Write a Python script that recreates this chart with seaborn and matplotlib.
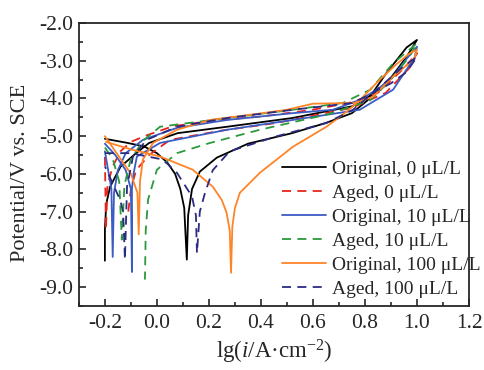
import numpy as np
import pandas as pd
import seaborn as sns
import matplotlib
matplotlib.use('Agg')
import matplotlib.pyplot as plt
from matplotlib.ticker import MultipleLocator, FormatStrFormatter

## DATA (forward scan, then reverse scan)
labels = ['Original, 0 μL/L', 'Aged, 0 μL/L', 'Original, 10 μL/L',
          'Aged, 10 μL/L', 'Original, 100 μL/L', 'Aged, 100 μL/L']

orig0_x = [-0.2, -0.12, -0.05, 0.0, 0.04, 0.07, 0.09, 0.105, 0.11, 0.115, 0.12, 0.135, 0.165, 0.23,
           0.35, 0.52, 0.65, 0.75, 0.81, 0.88, 0.96, 1.0, 0.96, 0.9, 0.86, 0.75, 0.52, 0.27, 0.08,
           -0.03, -0.08, -0.14, -0.18, -0.195, -0.2, -0.2]
orig0_y = [-5.07, -5.17, -5.27, -5.45, -5.7, -6.0, -6.4, -6.9, -7.6, -8.27, -7.1, -6.4, -5.94, -5.57,
           -5.2, -4.92, -4.65, -4.39, -4.05, -3.35, -2.65, -2.45, -2.9, -3.45, -3.77, -4.21, -4.52,
           -4.75, -4.92, -5.18, -5.45, -5.81, -6.34, -6.8, -7.48, -8.3]

aged0_x = [-0.2, -0.198, -0.196, -0.19, -0.17, -0.14, -0.1, -0.04, 0.06, 0.2, 0.4, 0.6, 0.75, 0.85,
           0.95, 1.0, 0.97, 0.88, 0.75, 0.46, 0.25, 0.05, -0.03, -0.08, -0.1, -0.11]
aged0_y = [-5.55, -6.5, -7.48, -6.3, -5.8, -5.4, -5.15, -4.98, -4.74, -4.6, -4.48, -4.3, -4.1, -3.85,
           -3.2, -2.8, -3.2, -3.85, -4.25, -4.65, -4.85, -5.1, -5.5, -5.9, -6.4, -7.0]

orig10_x = [-0.2, -0.19, -0.175, -0.17, -0.165, -0.15, -0.12, -0.054, 0.077, 0.27, 0.523, 0.677,
            0.78, 0.85, 0.908, 0.96, 1.0, 0.99, 0.973, 0.908, 0.78, 0.523, 0.27, 0.012, -0.077,
            -0.09, -0.096, -0.096, -0.1, -0.12, -0.16, -0.2]
orig10_y = [-5.4, -5.8, -6.4, -8.2, -6.5, -5.9, -5.45, -5.1, -4.78, -4.57, -4.39, -4.3,
            -4.04, -3.75, -3.42, -2.95, -2.63, -2.95, -3.1, -3.77, -4.3, -4.57, -4.83, -5.18, -5.54,
            -6.0, -6.4, -8.6, -6.4, -5.9, -5.5, -5.2]

aged10_x = [-0.2, -0.17, -0.145, -0.135, -0.125, -0.1, -0.05, 0.012, 0.27, 0.523, 0.715, 0.82, 0.91,
            1.0, 0.97, 0.9, 0.82, 0.652, 0.396, 0.204, 0.077, 0.0, -0.034, -0.043, -0.046]
aged10_y = [-5.3, -5.6, -6.2, -7.74, -6.3, -5.6, -5.1, -4.75, -4.52, -4.3, -4.12, -3.77, -3.06,
            -2.54, -2.9, -3.5, -4.05, -4.43, -4.83, -5.18, -5.45, -5.89, -6.68, -7.5, -8.8]

orig100_x = [-0.196, -0.1, 0.012, 0.138, 0.215, 0.25, 0.268, 0.28, 0.285, 0.29, 0.3, 0.319, 0.396,
             0.523, 0.652, 0.73, 0.781, 0.85, 0.92, 0.973, 1.0, 0.99, 0.908, 0.83, 0.76, 0.6, 0.5,
             0.396, 0.204, 0.077, -0.015, -0.054, -0.065, -0.07, -0.075, -0.1, -0.15, -0.2]
orig100_y = [-5.15, -5.35, -5.54, -5.89, -6.34, -6.7, -7.03, -7.5, -8.62, -7.4, -6.9, -6.5, -5.97,
             -5.28, -4.75, -4.35, -4.04, -3.55, -3.1, -2.8, -2.71, -2.95, -3.42, -3.96, -4.12, -4.14,
             -4.3, -4.4, -4.57, -4.83, -5.18, -5.62, -6.2, -7.6, -6.5, -6.0, -5.5, -5.0]

aged100_x = [-0.2, -0.1, 0.023, 0.077, 0.135, 0.15, 0.154, 0.165, 0.185, 0.215, 0.28, 0.462, 0.652,
             0.754, 0.846, 0.946, 1.0, 0.96, 0.9, 0.754, 0.523, 0.27, 0.077, -0.04, -0.092, -0.115,
             -0.123, -0.13, -0.142, -0.2]
aged100_y = [-5.45, -5.45, -5.62, -5.97, -6.6, -7.1, -8.1, -7.0, -6.5, -5.9, -5.4, -5.0, -4.65,
             -4.3, -3.77, -3.16, -2.9, -3.3, -3.6, -4.12, -4.3, -4.52, -4.75, -5.1, -5.54, -6.34,
             -8.27, -7.0, -6.68, -5.8]

curves_x = [orig0_x, aged0_x, orig10_x, aged10_x, orig100_x, aged100_x]
curves_y = [orig0_y, aged0_y, orig10_y, aged10_y, orig100_y, aged100_y]

colors = ['#000000', '#e8231d', '#3b5cc4', '#2b9a3b', '#ff8428', '#2b2b82']
styles = ['-', (0, (5, 3.5)), '-', (0, (5, 3.5)), '-', (0, (5, 3.5))]

## STYLE
sns.set_style('ticks')
plt.rcParams['font.family'] = ['Liberation Serif', 'DejaVu Serif']
plt.rcParams['mathtext.fontset'] = 'custom'
plt.rcParams['mathtext.rm'] = 'Liberation Serif'
plt.rcParams['mathtext.it'] = 'Liberation Serif:italic'
plt.rcParams['axes.unicode_minus'] = False

fig = plt.figure(figsize=(4.84, 3.70), dpi=100)
ax = fig.add_axes([0.163, 0.173, 0.806, 0.765])

for xs, ys, lab, c, ls in zip(curves_x, curves_y, labels, colors, styles):
    sns.lineplot(x=xs, y=ys, sort=False, estimator=None, color=c,
                 linestyle=ls, linewidth=1.3, label=lab, ax=ax)

ax.set_xlim(-0.3, 1.2)
ax.set_ylim(-9.5, -2.0)
ax.xaxis.set_major_locator(MultipleLocator(0.2))
ax.xaxis.set_minor_locator(MultipleLocator(0.1))
ax.yaxis.set_major_locator(MultipleLocator(1.0))
ax.yaxis.set_minor_locator(MultipleLocator(0.5))
ax.xaxis.set_major_formatter(FormatStrFormatter('%.1f'))
ax.yaxis.set_major_formatter(FormatStrFormatter('%.1f'))
ax.tick_params(which='both', direction='in', labelsize=15.5, width=1.2)
ax.tick_params(axis='y', pad=4)
ax.tick_params(axis='x', pad=6)
ax.tick_params(which='major', length=5)
ax.tick_params(which='minor', length=3)
for sp in ax.spines.values():
    sp.set_linewidth(1.3)

ax.set_xlabel(r'lg($\it{i}$/A·cm$^{-2}$)', fontsize=16.5, labelpad=3)
ax.set_ylabel('Potential/V vs. SCE', fontsize=16)
ax.yaxis.set_label_coords(-0.125, 0.47)

ax.legend(loc='lower right', frameon=False, fontsize=14, handlelength=2.3,
          handletextpad=0.3, labelspacing=0.33, borderaxespad=0.0,
          bbox_to_anchor=(1.05, 0.0))

fig.savefig('out.png', dpi=100)
